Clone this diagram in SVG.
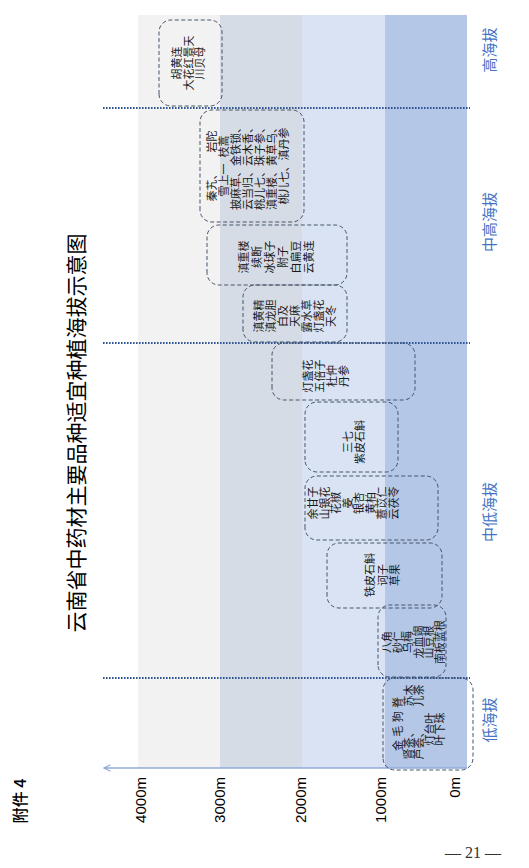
<svg xmlns="http://www.w3.org/2000/svg" width="529" height="868" viewBox="0 0 529 868">
<defs>
<marker id="arr" viewBox="0 0 10 10" refX="9" refY="5" markerWidth="8" markerHeight="8" orient="auto" markerUnits="userSpaceOnUse">
<path d="M1,1 L9,5 L1,9" fill="none" stroke="#8faadc" stroke-width="1.5"/>
</marker>
<style>
.box{fill:none;stroke:#44546a;stroke-width:1;stroke-dasharray:4 2.5}
.nt{font-family:"Noto Sans CJK SC",sans-serif;font-size:11px;fill:#1a1a1a;text-anchor:middle}
.tick{font-family:"Liberation Sans",Arial,sans-serif;font-size:15px;fill:#000;text-anchor:end}
.zone{font-family:"Noto Sans CJK SC",sans-serif;font-size:15px;fill:#4472c4;text-anchor:middle}
.sep{stroke:#2f5597;stroke-width:2;stroke-dasharray:1.6 1.4;fill:none}
</style>
</defs>
<rect width="529" height="868" fill="#fff"/>
<g transform="translate(0,868) rotate(-90)">
<g id="bands">
<rect x="100" y="138" width="753" height="82" fill="#f2f2f2"/>
<rect x="100" y="220" width="753" height="82" fill="#d6dce5"/>
<rect x="100" y="302" width="753" height="83" fill="#dae3f3"/>
<rect x="100" y="385" width="753" height="82" fill="#b4c7e7"/>
</g>
<g id="connectors">
<line x1="100" y1="467" x2="100" y2="104" stroke="#8faadc" stroke-width="1.5" marker-end="url(#arr)"/>
<line class="sep" x1="760" y1="103" x2="760" y2="470"/>
<line class="sep" x1="525" y1="103" x2="525" y2="470"/>
<line class="sep" x1="190" y1="103" x2="190" y2="470"/>
</g>
<g id="ticks">
<text class="tick" x="91" y="146">4000m</text>
<text class="tick" x="91" y="225">3000m</text>
<text class="tick" x="91" y="306">2000m</text>
<text class="tick" x="91" y="386">1000m</text>
<text class="tick" x="91" y="460">0m</text>
</g>
<g id="zones">
<text class="zone" x="818" y="495">高海拔</text>
<text class="zone" x="646" y="495">中高海拔</text>
<text class="zone" x="356" y="495">中低海拔</text>
<text class="zone" x="148" y="495">低海拔</text>
</g>
<text x="435" y="84" font-family="Noto Sans CJK SC, sans-serif" font-size="21" text-anchor="middle" fill="#000">云南省中药材主要品种适宜种植海拔示意图</text>
<text x="67" y="26" font-family="Noto Sans CJK SC, sans-serif" font-size="16" font-weight="500" text-anchor="middle" fill="#000">附件 4</text>
<g id="nodeA">
<rect class="box" x="762" y="159" width="86" height="63" rx="12"/>
<text class="nt" x="805" y="181">胡黄连</text>
<text class="nt" x="805" y="192.5">大花红景天</text>
<text class="nt" x="805" y="204">川贝母</text>
</g>
<g id="nodeB">
<rect class="box" x="646" y="200" width="112" height="104" rx="12"/>
<text class="nt" x="702" y="216">秦艽、<tspan dx="16">岩陀</tspan></text>
<text class="nt" x="702" y="228">雪上一<tspan dx="6">枝蒿</tspan></text>
<text class="nt" x="702" y="240">披麻草、金铁锁、</text>
<text class="nt" x="702" y="252">云当归、云木香、</text>
<text class="nt" x="702" y="264">桃儿七、珠子参、</text>
<text class="nt" x="702" y="276">滇重楼、黄草乌、</text>
<text class="nt" x="702" y="288">桃儿七、滇丹参</text>
</g>
<g id="nodeC">
<rect class="box" x="583" y="207" width="60" height="140" rx="12"/>
<text class="nt" x="611" y="248">滇重楼</text>
<text class="nt" x="611" y="261">续断</text>
<text class="nt" x="611" y="274">冰球子</text>
<text class="nt" x="611" y="287">附子</text>
<text class="nt" x="611" y="300">白扁豆</text>
<text class="nt" x="611" y="313">云黄连</text>
</g>
<g id="nodeD">
<rect class="box" x="526" y="243" width="57" height="104" rx="12"/>
<text class="nt" x="552" y="263">滇黄精</text>
<text class="nt" x="552" y="275">滇龙胆</text>
<text class="nt" x="552" y="287">白及</text>
<text class="nt" x="552" y="299">天麻</text>
<text class="nt" x="552" y="311">露水草</text>
<text class="nt" x="552" y="323">灯盏花</text>
<text class="nt" x="552" y="335">天冬</text>
</g>
<g id="nodeE">
<rect class="box" x="468" y="272" width="57" height="143" rx="12"/>
<text class="nt" x="492" y="312">灯盏花</text>
<text class="nt" x="492" y="324">五倍子</text>
<text class="nt" x="492" y="336">杜仲</text>
<text class="nt" x="492" y="348">丹参</text>
</g>
<g id="nodeF">
<rect class="box" x="396" y="305" width="70" height="93" rx="12"/>
<text class="nt" x="426" y="352">三七</text>
<text class="nt" x="426" y="364">紫皮石斛</text>
</g>
<g id="nodeG">
<rect class="box" x="328" y="305" width="64" height="133" rx="12"/>
<text class="nt" x="365" y="317">余甘子</text>
<text class="nt" x="365" y="328.5">山银花</text>
<text class="nt" x="365" y="340">花椒</text>
<text class="nt" x="365" y="351.5">姜</text>
<text class="nt" x="365" y="363">银杏</text>
<text class="nt" x="365" y="374.5">黄柏</text>
<text class="nt" x="365" y="386">薏苡仁</text>
<text class="nt" x="365" y="397.5">云茯苓</text>
</g>
<g id="nodeH">
<rect class="box" x="260" y="327" width="65" height="115" rx="12"/>
<text class="nt" x="293" y="374">铁皮石斛</text>
<text class="nt" x="293" y="386.5">诃子</text>
<text class="nt" x="293" y="399">草果</text>
</g>
<g id="nodeI">
<rect class="box" x="191" y="378" width="72" height="68" rx="12"/>
<text class="nt" x="226" y="391">八角</text>
<text class="nt" x="226" y="401.5">砂仁</text>
<text class="nt" x="226" y="412">乌梅</text>
<text class="nt" x="226" y="422.5">龙血竭</text>
<text class="nt" x="226" y="433">山豆根</text>
<text class="nt" x="226" y="443.5">南板蓝根</text>
</g>
<g id="nodeJ">
<rect class="box" x="98" y="383" width="92" height="90" rx="12"/>
<text class="nt" x="144" y="402" textLength="54" lengthAdjust="spacing">金毛狗脊</text>
<text class="nt" x="146" y="412.5">肾茶、<tspan dx="20">苏木</tspan></text>
<text class="nt" x="146" y="423">芦荟、<tspan dx="20">儿茶</tspan></text>
<text class="nt" x="139" y="433.5">灯台叶</text>
<text class="nt" x="139" y="444">叶下珠</text>
</g>
</g>
<text x="473" y="858" font-family="Liberation Serif, serif" font-size="16" text-anchor="middle" fill="#333">—  21  —</text>
</svg>
